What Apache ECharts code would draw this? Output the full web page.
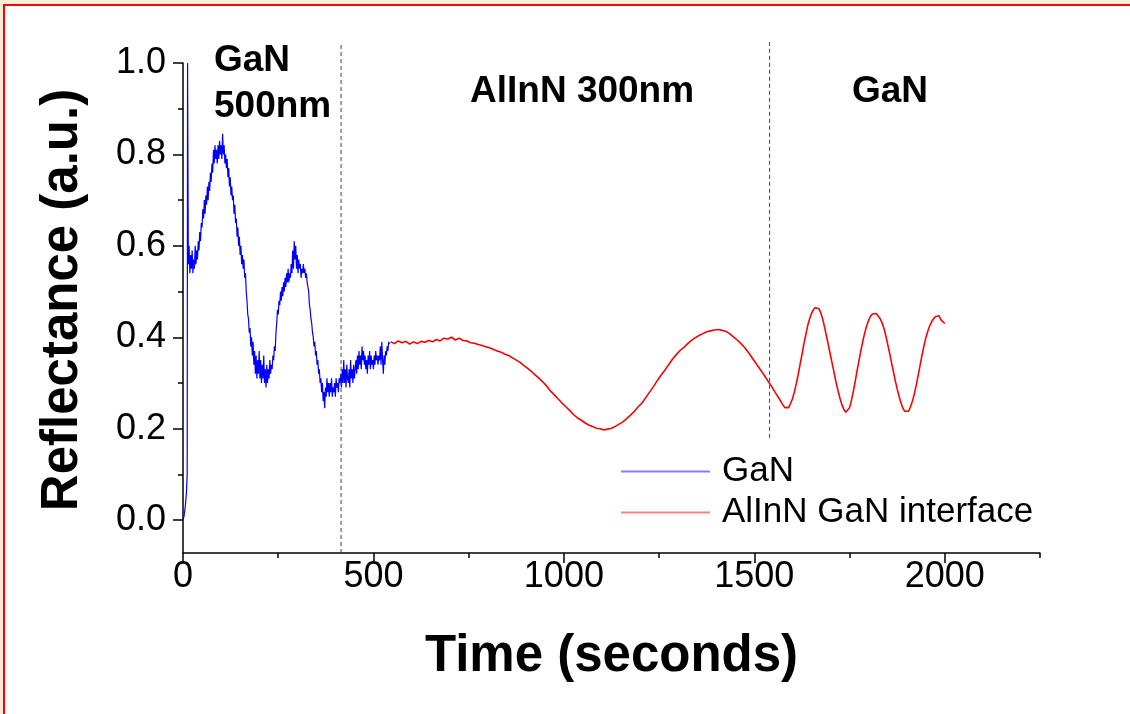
<!DOCTYPE html>
<html>
<head>
<meta charset="utf-8">
<script src="https://cdn.jsdelivr.net/npm/echarts@6/dist/echarts.min.js"></script>
<style>
  html, body { margin: 0; padding: 0; background: #fff; }
  #chart { width: 1130px; height: 714px; }
</style>
</head>
<body>
<div id="chart"></div>
<script>
// GaN layer (blue), [time s, reflectance]
const ganData = [
  [0, 0.00], [3, 0.01], [6, 0.03], [9, 0.06], [11, 0.10], [12, 1.00], [13, 1.00], [14, 0.56],
  [16, 0.60], [18, 0.54], [20, 0.58], [22, 0.55], [24, 0.59], [26, 0.54], [28, 0.57], [30, 0.55],
  [32, 0.60], [34, 0.56], [36, 0.59], [38, 0.57], [40, 0.61], [42, 0.59], [44, 0.63], [46, 0.61],
  [48, 0.65], [50, 0.64], [52, 0.68], [54, 0.66], [56, 0.70], [58, 0.67], [60, 0.71], [62, 0.69],
  [64, 0.73], [66, 0.70], [68, 0.74], [70, 0.72], [72, 0.76], [74, 0.74], [76, 0.78], [78, 0.76],
  [80, 0.81], [82, 0.78], [84, 0.82], [86, 0.79], [88, 0.81], [90, 0.78], [92, 0.82], [94, 0.79],
  [96, 0.83], [98, 0.80], [100, 0.82], [102, 0.79], [104, 0.845], [106, 0.80], [108, 0.82], [110, 0.78],
  [112, 0.80], [114, 0.77], [116, 0.79], [118, 0.75], [120, 0.77], [122, 0.73], [124, 0.75], [126, 0.71],
  [128, 0.73], [130, 0.70], [132, 0.71], [134, 0.67], [136, 0.69], [138, 0.65], [140, 0.66], [142, 0.62],
  [144, 0.64], [146, 0.60], [148, 0.62], [150, 0.58], [152, 0.60], [154, 0.56], [156, 0.58], [158, 0.55],
  [160, 0.57], [162, 0.53], [164, 0.54], [166, 0.50], [168, 0.48], [170, 0.45], [172, 0.44], [174, 0.41],
  [176, 0.42], [178, 0.38], [180, 0.40], [182, 0.36], [184, 0.39], [186, 0.34], [188, 0.37], [190, 0.32],
  [192, 0.36], [194, 0.31], [196, 0.35], [198, 0.32], [200, 0.37], [202, 0.31], [204, 0.35], [206, 0.30],
  [208, 0.34], [210, 0.31], [212, 0.36], [214, 0.30], [216, 0.33], [218, 0.29], [220, 0.34], [222, 0.30],
  [224, 0.33], [226, 0.31], [228, 0.35], [230, 0.32], [232, 0.34], [234, 0.33], [236, 0.36], [238, 0.35],
  [240, 0.38], [242, 0.37], [244, 0.41], [246, 0.43], [248, 0.46], [250, 0.45], [252, 0.48], [254, 0.47],
  [256, 0.50], [258, 0.48], [260, 0.51], [262, 0.49], [264, 0.52], [266, 0.50], [268, 0.53], [270, 0.51],
  [272, 0.54], [274, 0.52], [276, 0.55], [278, 0.52], [280, 0.54], [282, 0.53], [284, 0.56], [286, 0.54],
  [288, 0.59], [290, 0.55], [292, 0.61], [294, 0.57], [296, 0.60], [298, 0.55], [300, 0.58], [302, 0.54],
  [304, 0.57], [306, 0.55], [308, 0.56], [310, 0.53], [312, 0.55], [314, 0.54], [316, 0.56], [318, 0.54],
  [320, 0.55], [322, 0.53], [324, 0.54], [326, 0.52], [328, 0.51], [330, 0.50], [332, 0.47], [334, 0.46],
  [336, 0.44], [338, 0.43], [340, 0.41], [342, 0.40], [344, 0.38], [346, 0.39], [348, 0.36], [350, 0.37],
  [352, 0.34], [354, 0.35], [356, 0.32], [358, 0.33], [360, 0.30], [362, 0.31], [364, 0.28], [366, 0.30],
  [368, 0.26], [370, 0.28], [372, 0.245], [374, 0.29], [376, 0.27], [378, 0.31], [380, 0.28], [382, 0.30],
  [384, 0.27], [386, 0.30], [388, 0.28], [390, 0.31], [392, 0.27], [394, 0.29], [396, 0.28], [398, 0.30],
  [400, 0.27], [402, 0.31], [404, 0.29], [406, 0.30], [408, 0.28], [410, 0.31], [412, 0.30], [414, 0.32],
  [416, 0.29], [418, 0.33], [420, 0.30], [422, 0.35], [424, 0.30], [426, 0.33], [428, 0.29], [430, 0.34],
  [432, 0.31], [434, 0.30], [436, 0.33], [438, 0.29], [440, 0.35], [442, 0.31], [444, 0.33], [446, 0.30],
  [448, 0.34], [450, 0.31], [452, 0.33], [454, 0.35], [456, 0.32], [458, 0.36], [460, 0.33], [462, 0.37],
  [464, 0.34], [466, 0.36], [468, 0.33], [470, 0.38], [472, 0.35], [474, 0.37], [476, 0.34], [478, 0.36],
  [480, 0.33], [482, 0.35], [484, 0.32], [486, 0.36], [488, 0.34], [490, 0.37], [492, 0.33], [494, 0.36],
  [496, 0.34], [498, 0.35], [500, 0.33], [502, 0.36], [504, 0.34], [506, 0.37], [508, 0.35], [510, 0.36],
  [512, 0.34], [514, 0.36], [516, 0.35], [518, 0.38], [520, 0.34], [522, 0.39], [524, 0.35], [526, 0.32],
  [528, 0.36], [530, 0.34], [532, 0.37], [534, 0.36], [536, 0.38], [538, 0.37], [540, 0.39], [542, 0.385]
];

// AlInN / GaN interface (red), [time s, reflectance]
const interfaceData = [
  [545, 0.390], [555, 0.386], [565, 0.392], [575, 0.388], [585, 0.391], [595, 0.385], [605, 0.390],
  [615, 0.386], [625, 0.391], [635, 0.389], [645, 0.393], [655, 0.390], [665, 0.395], [675, 0.392],
  [685, 0.398], [695, 0.396], [705, 0.400], [715, 0.394], [725, 0.398], [735, 0.393], [745, 0.392],
  [755, 0.388], [765, 0.387], [775, 0.384], [785, 0.382], [795, 0.379], [805, 0.377], [815, 0.373],
  [825, 0.370], [835, 0.367], [845, 0.363], [855, 0.360], [865, 0.355], [875, 0.350], [885, 0.345],
  [895, 0.338], [905, 0.332], [915, 0.325], [925, 0.317], [935, 0.310], [945, 0.302], [955, 0.293],
  [965, 0.282], [975, 0.274], [985, 0.265], [995, 0.256], [1005, 0.248], [1015, 0.240], [1025, 0.231],
  [1035, 0.224], [1045, 0.219], [1055, 0.213], [1065, 0.208], [1075, 0.205], [1085, 0.201], [1095, 0.200],
  [1105, 0.197], [1115, 0.199], [1125, 0.201], [1135, 0.205], [1145, 0.210], [1155, 0.215], [1165, 0.222],
  [1175, 0.230], [1185, 0.238], [1195, 0.248], [1205, 0.256], [1215, 0.268], [1225, 0.280], [1235, 0.292],
  [1245, 0.305], [1255, 0.317], [1265, 0.328], [1275, 0.340], [1285, 0.352], [1295, 0.362], [1305, 0.371],
  [1315, 0.378], [1325, 0.386], [1335, 0.393], [1345, 0.399], [1355, 0.404], [1365, 0.408], [1375, 0.412],
  [1385, 0.414], [1395, 0.416], [1405, 0.417], [1415, 0.415], [1425, 0.413], [1435, 0.408], [1445, 0.401],
  [1455, 0.394], [1465, 0.386], [1475, 0.377], [1485, 0.366], [1495, 0.354], [1505, 0.342], [1515, 0.330],
  [1525, 0.318], [1535, 0.305], [1545, 0.293], [1555, 0.279], [1565, 0.266], [1575, 0.252], [1580, 0.246],
  [1585, 0.243], [1590, 0.246], [1595, 0.255], [1600, 0.265], [1605, 0.280], [1610, 0.298], [1615, 0.318],
  [1620, 0.340], [1625, 0.362], [1630, 0.385], [1635, 0.405], [1640, 0.425], [1645, 0.440], [1650, 0.452],
  [1655, 0.460], [1660, 0.465], [1665, 0.466], [1670, 0.462], [1675, 0.452], [1680, 0.438], [1685, 0.420],
  [1690, 0.400], [1695, 0.380], [1700, 0.360], [1705, 0.340], [1710, 0.320], [1715, 0.300], [1720, 0.282],
  [1725, 0.266], [1730, 0.252], [1735, 0.242], [1740, 0.236], [1745, 0.237], [1750, 0.246], [1755, 0.262],
  [1760, 0.282], [1765, 0.304], [1770, 0.328], [1775, 0.350], [1780, 0.372], [1785, 0.392], [1790, 0.410],
  [1795, 0.425], [1800, 0.437], [1805, 0.446], [1810, 0.451], [1815, 0.453], [1820, 0.452], [1825, 0.448],
  [1830, 0.441], [1835, 0.432], [1840, 0.420], [1845, 0.404], [1850, 0.385], [1855, 0.366], [1860, 0.345],
  [1865, 0.325], [1870, 0.305], [1875, 0.287], [1880, 0.271], [1885, 0.256], [1890, 0.245], [1895, 0.238],
  [1900, 0.234], [1905, 0.238], [1910, 0.248], [1915, 0.260], [1920, 0.276], [1925, 0.295], [1930, 0.316],
  [1935, 0.338], [1940, 0.360], [1945, 0.380], [1950, 0.398], [1955, 0.412], [1960, 0.424], [1965, 0.433],
  [1970, 0.440], [1975, 0.445], [1980, 0.443], [1985, 0.447], [1990, 0.438], [1995, 0.440], [2000, 0.430]
];

// layer boundaries (dashed): time, bottom and top reflectance
const dividerTime = [415, 1540];
const dividerBottom = [-0.072, 0.18];
const dividerTop = [1.046, 1.046];

const xMajor = [0, 500, 1000, 1500, 2000];
const xMinor = [250, 750, 1250, 1750, 2250];
const yMajor = [0.0, 0.2, 0.4, 0.6, 0.8, 1.0];
const yMinor = [0.1, 0.3, 0.5, 0.7, 0.9];

const seriesNames = ['GaN', 'AlInN GaN interface'];

const FONT = '"Liberation Sans", Arial, sans-serif';
const X_MIN = 0, X_MAX = 2250, Y_MIN = -0.072, Y_MAX = 1.0;

const chart = echarts.init(document.getElementById('chart'), null, { renderer: 'canvas' });

const axisLine = { show: true, onZero: false, lineStyle: { color: '#000', width: 1.5 } };

const dividerSeries = dividerTime.map((t, i) => ({
  type: 'line',
  xAxisIndex: 0,
  yAxisIndex: 0,
  data: [[t, dividerBottom[i]], [t, dividerTop[i]]],
  showSymbol: false,
  clip: false,
  silent: true,
  z: 5,
  lineStyle: { color: '#444', width: 1, type: [4, 3] }
}));

chart.setOption({
  animation: false,
  backgroundColor: '#fff',
  grid: { left: 183, right: 90, top: 63, bottom: 161, containLabel: false },
  xAxis: [
    {
      type: 'value', min: X_MIN, max: X_MAX, position: 'bottom',
      axisLine: axisLine,
      splitLine: { show: false },
      axisTick: { show: true, length: 10, customValues: xMajor, lineStyle: { color: '#000', width: 1.5 } },
      axisLabel: {
        customValues: xMajor, margin: 6, fontSize: 36, color: '#000', fontFamily: FONT,
        formatter: v => String(v)
      },
      name: 'Time (seconds)', nameLocation: 'middle', nameGap: 78,
      nameTextStyle: { fontSize: 51, fontWeight: 'bold', color: '#000', fontFamily: FONT }
    },
    {
      type: 'value', min: X_MIN, max: X_MAX, position: 'bottom',
      axisLine: { show: false, onZero: false },
      splitLine: { show: false },
      axisTick: { show: true, length: 5, customValues: xMinor, lineStyle: { color: '#000', width: 1.5 } },
      axisLabel: { show: false }
    }
  ],
  yAxis: [
    {
      type: 'value', min: Y_MIN, max: Y_MAX, position: 'left',
      axisLine: axisLine,
      splitLine: { show: false },
      axisTick: { show: true, length: 10, customValues: yMajor, lineStyle: { color: '#000', width: 1.5 } },
      axisLabel: {
        customValues: yMajor, margin: 17, fontSize: 36, color: '#000', fontFamily: FONT,
        formatter: v => v.toFixed(1)
      }
    },
    {
      type: 'value', min: Y_MIN, max: Y_MAX, position: 'left',
      axisLine: { show: false, onZero: false },
      splitLine: { show: false },
      axisTick: { show: true, length: 5, customValues: yMinor, lineStyle: { color: '#000', width: 1.5 } },
      axisLabel: { show: false }
    }
  ],
  legend: {
    orient: 'vertical',
    left: 621,
    top: 454,
    padding: 0,
    itemGap: 6,
    itemWidth: 89,
    itemHeight: 2,
    icon: 'rect',
    data: [
      { name: seriesNames[0], itemStyle: { color: '#8080ff' } },
      { name: seriesNames[1], itemStyle: { color: '#ff8080' } }
    ],
    textStyle: { fontSize: 35, color: '#000', fontFamily: FONT, padding: [6, 0, 0, 7] }
  },
  series: [
    {
      name: seriesNames[0], type: 'line', data: ganData, showSymbol: false, clip: true, z: 3,
      itemStyle: { color: '#0000ff' }, lineStyle: { color: '#0000ff', width: 1.2 }
    },
    {
      name: seriesNames[1], type: 'line', data: interfaceData, showSymbol: false, clip: true, z: 3,
      itemStyle: { color: '#ff0000' }, lineStyle: { color: '#ff0000', width: 1.6 }
    }
  ].concat(dividerSeries),
  graphic: [
    { type: 'rect', shape: { x: 0, y: 0, width: 1130, height: 4 }, style: { fill: '#f6eed8' }, silent: true },
    { type: 'rect', shape: { x: 0, y: 0, width: 3, height: 714 }, style: { fill: '#f6eed8' }, silent: true },
    { type: 'rect', shape: { x: 3, y: 4, width: 1127, height: 2 }, style: { fill: '#ff0000' }, silent: true },
    { type: 'rect', shape: { x: 3, y: 4, width: 2, height: 710 }, style: { fill: '#ff0000' }, silent: true },
    {
      type: 'text', x: 63, y: 300, rotation: Math.PI / 2,
      style: { text: 'Reflectance (a.u.)', font: 'bold 51px ' + FONT, fill: '#000', align: 'center', verticalAlign: 'middle' }
    },
    {
      type: 'text', x: 214, y: 61,
      style: { text: 'GaN', font: 'bold 37px ' + FONT, fill: '#000', align: 'left', verticalAlign: 'middle' }
    },
    {
      type: 'text', x: 214, y: 107,
      style: { text: '500nm', font: 'bold 37px ' + FONT, fill: '#000', align: 'left', verticalAlign: 'middle' }
    },
    {
      type: 'text', x: 470, y: 92,
      style: { text: 'AlInN 300nm', font: 'bold 37px ' + FONT, fill: '#000', align: 'left', verticalAlign: 'middle' }
    },
    {
      type: 'text', x: 852, y: 92,
      style: { text: 'GaN', font: 'bold 37px ' + FONT, fill: '#000', align: 'left', verticalAlign: 'middle' }
    }
  ]
});
</script>
</body>
</html>
